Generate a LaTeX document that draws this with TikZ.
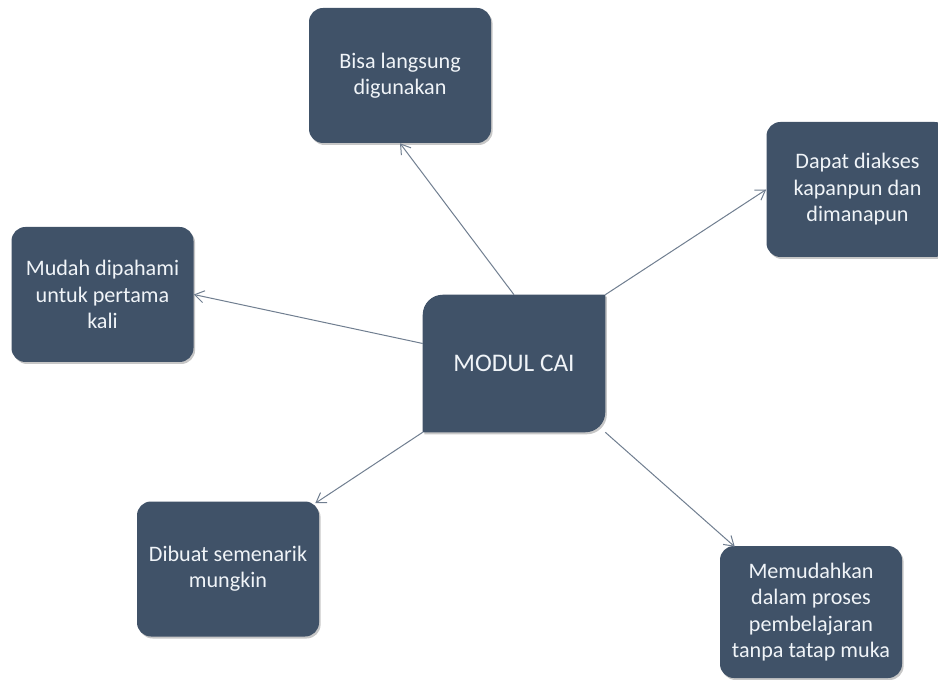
\documentclass[tikz,border=0pt]{standalone}
\usepackage{fontspec}
\setmainfont{Carlito}
\usetikzlibrary{arrows.meta,calc,shadows}
\definecolor{boxfill}{RGB}{64,82,104}
\definecolor{boxtext}{RGB}{240,244,248}
\definecolor{linkcol}{RGB}{112,126,144}
\tikzset{
  shade/.style={drop shadow={shadow xshift=1.2pt,shadow yshift=-1.5pt,opacity=0.22,fill=black}},
  leaf/.style={shade,fill=boxfill,rounded corners=10.5pt,text=boxtext,align=center,
    minimum width=136.5pt,minimum height=101.25pt,inner sep=0pt,
    font=\fontsize{16.6}{19.8}\selectfont},
  link/.style={draw=linkcol,line width=0.75pt,-{Straight Barb[length=7pt,width=9pt,line width=0.75pt]}}
}
\begin{document}
\begin{tikzpicture}[x=0.75pt,y=0.75pt]
\useasboundingbox (0,0) rectangle (938,-680);
\clip (0,0) rectangle (938,-680);
\fill[white] (0,0) rectangle (938,-680);
% central node geometry
\node[minimum width=136.5pt,minimum height=102.75pt,inner sep=0pt] (c) at (514,-363.5) {};
\fill[boxfill,shade] ($(c.north west)+(0,-20)$) arc[start angle=180,end angle=90,radius=20]
  -- (c.north east) -- ($(c.south east)+(0,20)$) arc[start angle=0,end angle=-90,radius=20]
  -- (c.south west) -- cycle;
\node[text=boxtext,font=\fontsize{19}{22}\selectfont] (ctext) at (c.center) {MODUL CAI};
% leaves
\node[leaf] (top) at (400,-75.5) {Bisa langsung\\digunakan};
\node[leaf] (right) at (857.5,-189.5) {Dapat diakses\\kapanpun dan\\dimanapun};
\node[leaf] (left) at (102.5,-294.5) {Mudah dipahami\\untuk pertama\\kali};
\node[leaf] (bl) at (228,-569) {Dibuat semenarik\\mungkin};
\node[leaf,minimum height=99pt] (br) at (811,-612) {Memudahkan\\dalam proses\\pembelajaran\\tanpa tatap muka};
% connectors
\draw[link] (c.north) -- (top.south);
\draw[link] (c.north east) -- (right.west);
\draw[link] ($(c.west)+(0,20)$) -- (left.east);
\draw[link] (c.south west) -- ($(bl.north east)+(-4,-2)$);
\draw[link] (c.south east) -- ($(br.north west)+(15,-1)$);
\end{tikzpicture}
\end{document}
